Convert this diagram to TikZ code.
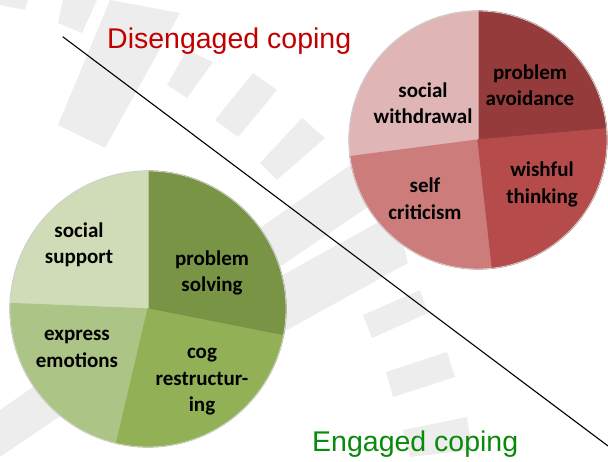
\documentclass[tikz,border=0pt]{standalone}
\usepackage{fontspec}
\usepackage{xcolor}
\usepackage{tikz}
\newfontfamily\calib{Carlito}
\newfontfamily\arialf{Liberation Sans}
\definecolor{avoid}{HTML}{953B3B}
\definecolor{withdraw}{HTML}{DFB5B5}
\definecolor{critic}{HTML}{CB7C7B}
\definecolor{wishful}{HTML}{B54C4B}
\definecolor{solve}{HTML}{7A9445}
\definecolor{support}{HTML}{D0DCB8}
\definecolor{express}{HTML}{ACC485}
\definecolor{cogre}{HTML}{92B055}
\definecolor{wmark}{HTML}{EDEDED}
\definecolor{titred}{HTML}{C00000}
\definecolor{titgreen}{HTML}{0A8A0A}
\tikzset{
  slice/.style={draw=white, line width=1.2pt},
  rim/.style={draw=black!18, line width=0.8pt},
  lbl/.style={font=\calib\bfseries\fontsize{21}{26.5}\selectfont, align=center, inner sep=0pt},
  title/.style={font=\arialf\fontsize{28.5}{32}\selectfont, anchor=base west, inner sep=0pt}
}

\begin{document}
\begin{tikzpicture}[x=1pt,y=1pt]
        \useasboundingbox (0,0) rectangle (608,461);
        % Filigrana grigia
        \fill[wmark] (0,461) -- (28,461) -- (25,451) -- (0,456) -- cycle;
        \fill[wmark] (63,461) -- (97,461) -- (82,428) -- (58,438) -- cycle;
        \fill[wmark] (110,461) -- (180,448) -- (105,313) -- (58,336) -- cycle;
        \fill[wmark] (187,411) -- (213,399) -- (187,363) -- (167,376) -- cycle;
        \fill[wmark] (253,388) -- (277,371) -- (238,324) -- (215,341) -- cycle;
        \fill[wmark] (302,343) -- (325,323) -- (277,281) -- (260,298) -- cycle;
        \fill[wmark] (0,51) -- (390,324) -- (400,276) -- (0,4) -- cycle;
        \fill[wmark] (250,168) -- (395,248) -- (408,198) -- (260,116) -- cycle;
        \fill[wmark] (363,146) -- (420,171) -- (428,148) -- (372,123) -- cycle;
        \fill[wmark] (386,89) -- (447,109) -- (455,84) -- (393,64) -- cycle;
        \fill[wmark] (403,31) -- (467,44) -- (472,11) -- (410,4) -- cycle;
        % Linea diagonale
        \coordinate (lineA) at (62.7,424.3);
        \coordinate (lineB) at (608,15);
        \draw[line width=1.1pt] (lineA) -- (lineB);
        % Torta rossa
        \fill[slice, avoid] (478,321) -- +(5:129) arc[start angle=5, end angle=90, radius=129] -- cycle;
        \fill[slice, withdraw] (478,321) -- +(90:129) arc[start angle=90, end angle=187.4, radius=129] -- cycle;
        \fill[slice, critic] (478,321) -- +(187.4:129) arc[start angle=187.4, end angle=276.4, radius=129] -- cycle;
        \fill[slice, wishful] (478,321) -- +(276.4:129) arc[start angle=276.4, end angle=365, radius=129] -- cycle;
        \draw[rim] (478,321) circle[radius=129];
        \node[lbl] (withdrawal) at (423,358) {social\\withdrawal};
        \node[lbl] (avoidance) at (530,376) {problem\\avoidance};
        \node[lbl] (criticism) at (425,262.5) {self\\criticism};
        \node[lbl] (thinking) at (542,276.5) {wishful\\thinking};
        % Torta verde
        \fill[slice, solve] (148,152) -- +(-11.2:138) arc[start angle=-11.2, end angle=90, radius=138] -- cycle;
        \fill[slice, support] (148,152) -- +(90:138) arc[start angle=90, end angle=177.7, radius=138] -- cycle;
        \fill[slice, express] (148,152) -- +(177.7:138) arc[start angle=177.7, end angle=256.8, radius=138] -- cycle;
        \fill[slice, cogre] (148,152) -- +(256.8:138) arc[start angle=256.8, end angle=348.8, radius=138] -- cycle;
        \draw[rim] (148,152) circle[radius=138];
        \node[lbl] (socsupport) at (79,216) {social\\support};
        \node[lbl] (solving) at (212,188) {problem\\solving};
        \node[lbl] (emotions) at (77,112) {express\\emotions};
        \node[lbl] (restructuring) at (202,79.3) {cog\\restructur-\\ing};
        % Titoli
        \node[title, titred] (disengaged) at (107,412) {Disengaged coping};
        \node[title, titgreen] (engaged) at (312,9.3) {Engaged coping};
    \end{tikzpicture}
\end{document}
